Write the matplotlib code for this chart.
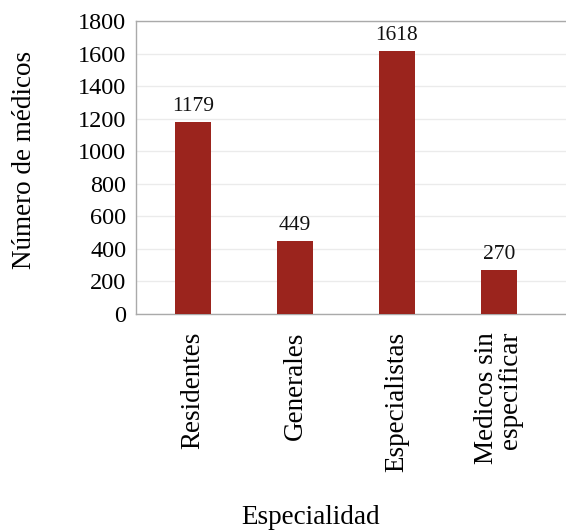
import matplotlib.pyplot as plt
import numpy as np

categorias = ["Residentes", "Generales", "Especialistas", "Medicos sin\nespecificar"]
medicos = [1179, 449, 1618, 270]
yticks = [0, 200, 400, 600, 800, 1000, 1200, 1400, 1600, 1800]

plt.rcParams['font.family'] = ['Liberation Serif', 'DejaVu Serif']

fig = plt.figure(figsize=(5.66, 5.32), dpi=100)
ax = fig.add_axes([136/566, 1 - 314/532, 440/566, 293/532])

x = np.arange(len(categorias))
bars = ax.bar(x, medicos, width=0.35, color='#9b241d', zorder=3)
for b, v in zip(bars, medicos):
    ax.text(b.get_x() + b.get_width()/2, v + 35, str(v), ha='center', va='bottom',
            fontsize=15.5, color='#111111')

ax.set_ylim(0, 1800)
ax.set_xlim(-0.559, 3.757)
ax.set_yticks(yticks)
ax.set_yticklabels([str(t) for t in yticks], fontsize=17.5)
ax.set_xticks(x)
ax.set_xticklabels(categorias, rotation=90, fontsize=19.5, va='top', ha='center',
                   multialignment='right', linespacing=0.95)
ax.tick_params(axis='both', length=0)
ax.tick_params(axis='y', pad=7)
ax.tick_params(axis='x', pad=13)
ax.yaxis.grid(True, color='#ebebeb', linewidth=1, zorder=0)

for s in ['left', 'bottom', 'top']:
    ax.spines[s].set_color('#aaaaaa')
    ax.spines[s].set_linewidth(1)
ax.spines['right'].set_visible(False)

fig.text(25/566, 1 - 160/532, "Número de médicos", rotation=90, ha='center', va='center',
         fontsize=19.5)
fig.text(311/566, 1 - 518/532, "Especialidad", ha='center', va='center', fontsize=19.5)

fig.savefig("out.png", dpi=100)
